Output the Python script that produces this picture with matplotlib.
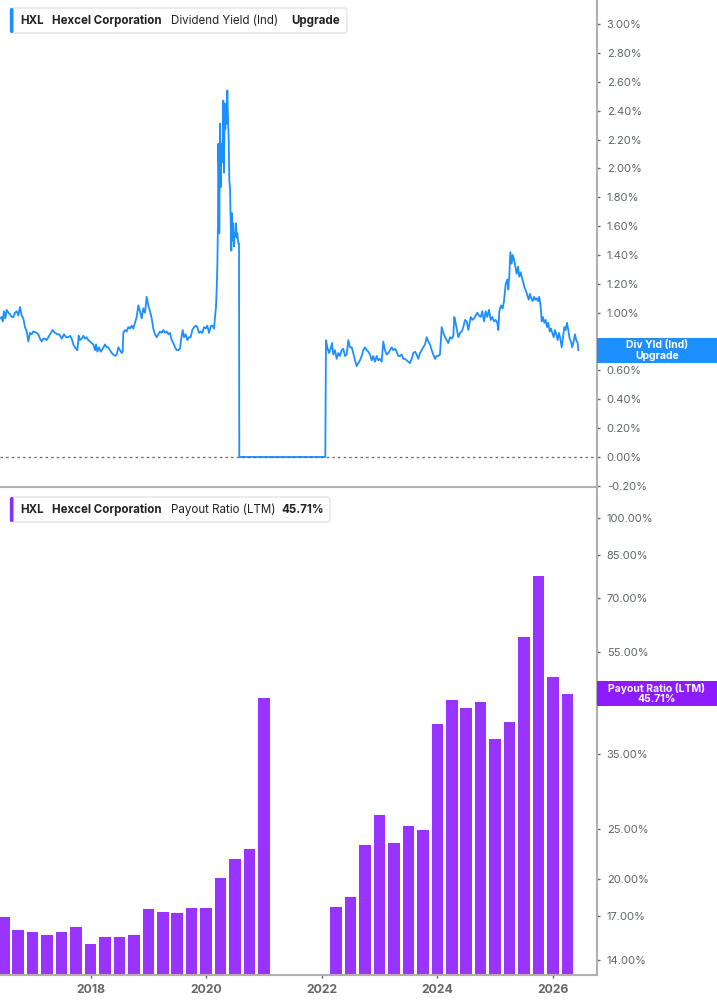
import matplotlib
matplotlib.use('Agg')
import matplotlib.pyplot as plt
from matplotlib.patches import Rectangle, FancyBboxPatch
from matplotlib.transforms import IdentityTransform
from matplotlib.ticker import NullLocator

plt.rcParams['font.family'] = ['Inter', 'DejaVu Sans']

# ---------------- data ----------------
ticker = "HXL"
company = "Hexcel Corporation"
top_series_name = "Dividend Yield (Ind)"
top_badge = ["Div Yld (Ind)", "Upgrade"]
bottom_series_name = "Payout Ratio (LTM)"

# Dividend yield (%) vs decimal year
yield_years = [
    2016.434, 2016.463, 2016.481, 2016.503, 2016.526, 2016.550, 2016.578, 2016.607, 2016.637, 2016.664,
    2016.694, 2016.723, 2016.751, 2016.780, 2016.809, 2016.837, 2016.867, 2016.896, 2016.924, 2016.953,
    2016.983, 2017.010, 2017.069, 2017.097, 2017.126, 2017.155, 2017.183, 2017.213, 2017.242, 2017.270,
    2017.299, 2017.346, 2017.386, 2017.426, 2017.460, 2017.502, 2017.542, 2017.576, 2017.616, 2017.645,
    2017.675, 2017.702, 2017.732, 2017.772, 2017.796, 2017.818, 2017.848, 2017.875, 2017.905, 2017.934,
    2017.962, 2017.991, 2018.021, 2018.048, 2018.078, 2018.095, 2018.118, 2018.147, 2018.176, 2018.211,
    2018.251, 2018.280, 2018.308, 2018.337, 2018.367, 2018.394, 2018.424, 2018.453, 2018.481, 2018.510,
    2018.540, 2018.557, 2018.567, 2018.597, 2018.626, 2018.654, 2018.683, 2018.713, 2018.740, 2018.770,
    2018.799, 2018.827, 2018.856, 2018.886, 2018.913, 2018.943, 2018.972, 2019.000, 2019.029, 2019.059,
    2019.086, 2019.116, 2019.145, 2019.173, 2019.202, 2019.232, 2019.259, 2019.289, 2019.318, 2019.346,
    2019.375, 2019.405, 2019.432, 2019.462, 2019.491, 2019.519, 2019.548, 2019.566, 2019.595, 2019.618,
    2019.647, 2019.675, 2019.704, 2019.733, 2019.761, 2019.791, 2019.820, 2019.848, 2019.877, 2019.906,
    2019.934, 2019.964, 2019.993, 2020.021, 2020.050, 2020.085, 2020.114, 2020.137, 2020.154, 2020.171,
    2020.183, 2020.194, 2020.206, 2020.211, 2020.223, 2020.228, 2020.240, 2020.252, 2020.263, 2020.275,
    2020.287, 2020.297, 2020.310, 2020.322, 2020.332, 2020.344, 2020.356, 2020.367, 2020.379, 2020.391,
    2020.401, 2020.413, 2020.425, 2020.436, 2020.448, 2020.460, 2020.470, 2020.483, 2020.495, 2020.505,
    2020.517, 2020.529, 2020.540, 2020.557, 2020.569, 2020.574, 2022.062, 2022.074, 2022.097, 2022.126,
    2022.156, 2022.178, 2022.200, 2022.230, 2022.259, 2022.287, 2022.316, 2022.346, 2022.373, 2022.403,
    2022.432, 2022.460, 2022.489, 2022.519, 2022.546, 2022.576, 2022.605, 2022.633, 2022.662, 2022.692,
    2022.719, 2022.749, 2022.778, 2022.806, 2022.835, 2022.865, 2022.892, 2022.922, 2022.951, 2022.979,
    2023.008, 2023.038, 2023.065, 2023.095, 2023.124, 2023.152, 2023.181, 2023.211, 2023.238, 2023.268,
    2023.297, 2023.325, 2023.354, 2023.384, 2023.411, 2023.441, 2023.470, 2023.498, 2023.527, 2023.557,
    2023.584, 2023.614, 2023.643, 2023.671, 2023.700, 2023.730, 2023.757, 2023.787, 2023.816, 2023.844,
    2023.873, 2023.903, 2023.930, 2023.960, 2023.989, 2024.017, 2024.046, 2024.076, 2024.104, 2024.134,
    2024.163, 2024.191, 2024.220, 2024.250, 2024.277, 2024.294, 2024.306, 2024.336, 2024.364, 2024.393,
    2024.423, 2024.450, 2024.480, 2024.509, 2024.537, 2024.578, 2024.606, 2024.635, 2024.664, 2024.692,
    2024.721, 2024.751, 2024.778, 2024.808, 2024.837, 2024.865, 2024.894, 2024.923, 2024.951, 2024.981,
    2025.010, 2025.038, 2025.055, 2025.073, 2025.102, 2025.131, 2025.154, 2025.183, 2025.211, 2025.228,
    2025.245, 2025.263, 2025.287, 2025.304, 2025.327, 2025.349, 2025.373, 2025.396, 2025.418, 2025.443,
    2025.465, 2025.487, 2025.512, 2025.534, 2025.557, 2025.581, 2025.603, 2025.626, 2025.650, 2025.673,
    2025.695, 2025.719, 2025.742, 2025.764, 2025.789, 2025.806, 2025.828, 2025.851, 2025.875, 2025.898,
    2025.920, 2025.945, 2025.967, 2025.989, 2026.014, 2026.036, 2026.058, 2026.083, 2026.105, 2026.128,
    2026.152, 2026.174, 2026.197, 2026.221, 2026.243, 2026.266, 2026.290, 2026.313, 2026.335, 2026.359,
    2026.382, 2026.404, 2026.429, 2026.439,
]
yield_values = [
    0.96, 0.97, 0.94, 1.01, 0.96, 1.02, 1.00, 0.99, 0.97, 0.97,
    1.00, 1.01, 0.98, 1.04, 0.98, 0.96, 0.90, 0.87, 0.80, 0.86,
    0.85, 0.87, 0.86, 0.85, 0.82, 0.80, 0.82, 0.82, 0.81, 0.83,
    0.85, 0.88, 0.86, 0.85, 0.85, 0.82, 0.85, 0.83, 0.83, 0.84,
    0.82, 0.78, 0.76, 0.74, 0.84, 0.81, 0.82, 0.84, 0.82, 0.83,
    0.81, 0.80, 0.79, 0.78, 0.74, 0.78, 0.73, 0.76, 0.73, 0.75,
    0.78, 0.76, 0.76, 0.74, 0.72, 0.71, 0.70, 0.71, 0.76, 0.74,
    0.72, 0.73, 0.86, 0.88, 0.87, 0.90, 0.89, 0.91, 0.89, 0.93,
    0.97, 1.05, 1.01, 0.96, 1.03, 1.00, 1.11, 1.05, 1.01, 0.96,
    0.89, 0.85, 0.83, 0.85, 0.87, 0.86, 0.88, 0.86, 0.87, 0.85,
    0.86, 0.81, 0.79, 0.76, 0.74, 0.74, 0.75, 0.81, 0.88, 0.83,
    0.85, 0.81, 0.83, 0.83, 0.88, 0.90, 0.91, 0.90, 0.86, 0.87,
    0.86, 0.90, 0.89, 0.91, 0.86, 0.91, 0.91, 0.89, 0.97, 1.04,
    1.16, 1.32, 1.64, 2.17, 1.92, 1.55, 2.31, 1.87, 2.17, 2.04,
    2.20, 2.47, 1.97, 2.45, 2.27, 2.43, 2.31, 2.54, 2.34, 2.20,
    1.92, 1.87, 1.64, 1.43, 1.69, 1.50, 1.62, 1.46, 1.55, 1.53,
    1.62, 1.52, 1.55, 1.48, 1.48, 0.00, 0.00, 0.81, 0.76, 0.72,
    0.75, 0.79, 0.71, 0.74, 0.68, 0.72, 0.70, 0.74, 0.75, 0.70,
    0.71, 0.81, 0.76, 0.76, 0.72, 0.67, 0.63, 0.65, 0.67, 0.70,
    0.74, 0.76, 0.74, 0.73, 0.71, 0.67, 0.70, 0.66, 0.70, 0.67,
    0.68, 0.66, 0.80, 0.74, 0.71, 0.72, 0.74, 0.76, 0.74, 0.75,
    0.73, 0.70, 0.70, 0.71, 0.68, 0.68, 0.67, 0.66, 0.65, 0.68,
    0.72, 0.73, 0.71, 0.68, 0.72, 0.74, 0.76, 0.78, 0.83, 0.80,
    0.78, 0.74, 0.71, 0.68, 0.70, 0.70, 0.71, 0.90, 0.86, 0.83,
    0.81, 0.79, 0.83, 0.82, 0.84, 0.97, 0.95, 0.89, 0.83, 0.86,
    0.87, 0.90, 0.95, 0.94, 0.88, 0.97, 0.95, 0.96, 0.98, 1.00,
    0.98, 0.97, 1.01, 0.94, 1.01, 0.97, 1.02, 0.95, 0.97, 0.94,
    0.95, 0.93, 0.88, 1.01, 1.05, 1.03, 1.08, 1.20, 1.23, 1.16,
    1.25, 1.42, 1.34, 1.40, 1.37, 1.32, 1.27, 1.32, 1.25, 1.28,
    1.24, 1.21, 1.17, 1.15, 1.12, 1.09, 1.13, 1.10, 1.08, 1.11,
    1.09, 1.10, 1.08, 1.11, 1.04, 0.94, 0.97, 0.93, 0.95, 0.90,
    0.93, 0.87, 0.89, 0.86, 0.83, 0.88, 0.85, 0.81, 0.86, 0.82,
    0.76, 0.83, 0.90, 0.88, 0.93, 0.88, 0.82, 0.80, 0.76, 0.80,
    0.85, 0.81, 0.79, 0.74,
]

# Payout ratio (LTM, %) by quarter (decimal year of bar centre)
payout_quarters = [
    2016.50, 2016.75, 2017.00, 2017.25, 2017.50, 2017.75, 2018.00, 2018.25, 2018.50, 2018.75,
    2019.00, 2019.25, 2019.50, 2019.75, 2020.00, 2020.25, 2020.50, 2020.75, 2021.00,
    2022.25, 2022.50, 2022.75, 2023.00, 2023.25, 2023.50, 2023.75, 2024.00, 2024.25, 2024.50,
    2024.75, 2025.00, 2025.25, 2025.50, 2025.75, 2026.00, 2026.25,
]
payout_values = [
    16.9, 16.0, 15.8, 15.6, 15.8, 16.2, 15.0, 15.5, 15.5, 15.6,
    17.5, 17.3, 17.2, 17.6, 17.6, 20.1, 21.9, 22.9, 44.8,
    17.7, 18.5, 23.3, 26.7, 23.5, 25.4, 24.9, 39.9, 44.4, 43.0,
    44.0, 37.3, 40.4, 58.8, 77.2, 49.2, 45.71,
]

top_ticks = [-0.2, 0.0, 0.2, 0.4, 0.6, 0.8, 1.0, 1.2, 1.4, 1.6, 1.8, 2.0, 2.2, 2.4, 2.6, 2.8, 3.0]
bottom_ticks = [14, 17, 20, 25, 35, 45, 55, 70, 85, 100]
year_ticks = [2018, 2020, 2022, 2024, 2026]

# ---------------- style ----------------
W, H = 717, 1005
BLUE = '#1E8FFF'
PURPLE = '#9933FF'
PURPLE_BADGE = '#8C1CFF'
SPINE = '#B0B0B0'
TICKC = '#5F6368'

fig = plt.figure(figsize=(W / 100, H / 100), dpi=100)
fig.patch.set_facecolor('white')

def fr(px_top, px_bottom):
    return 1 - px_bottom / H, (px_bottom - px_top) / H

b1, h1 = fr(0, 487)
b2, h2 = fr(489, 975)
ax1 = fig.add_axes([0, b1, 597 / W, h1])
ax2 = fig.add_axes([0, b2, 597 / W, h2], sharex=ax1)

XMIN, XMAX = 2016.434, 2026.763

for ax in (ax1, ax2):
    for s in ('left', 'top'):
        ax.spines[s].set_visible(False)
    for s in ('right', 'bottom'):
        ax.spines[s].set_color(SPINE)
        ax.spines[s].set_linewidth(1.5)
    ax.yaxis.tick_right()
    ax.tick_params(axis='y', which='major', direction='out', length=2.5, width=1,
                   color='#666666', labelsize=8, labelcolor=TICKC, pad=4.5)
    ax.set_facecolor('white')

# top panel
ax1.plot(yield_years, yield_values, color=BLUE, lw=1.3, solid_joinstyle='round')
ax1.axhline(0, color='#666666', lw=0.9, ls=(0, (2, 2.5)))
ax1.set_xlim(XMIN, XMAX)
ax1.set_ylim(-0.208, 3.167)
ax1.set_yticks(top_ticks)
ax1.set_yticklabels([f"{v:.2f}%" for v in top_ticks])
ax1.tick_params(axis='x', which='both', bottom=False, labelbottom=False)

# bottom panel (bars rise from the bottom of the log axis)
ax2.set_yscale('log')
ax2.bar(payout_quarters, payout_values, width=0.2, bottom=1e-4, color=PURPLE, linewidth=0)
ax2.set_ylim(13.07, 113.8)
ax2.yaxis.set_minor_locator(NullLocator())
ax2.set_yticks(bottom_ticks)
ax2.set_yticklabels([f"{v:.2f}%" for v in bottom_ticks])
ax2.set_xticks(year_ticks)
ax2.set_xticklabels([str(y) for y in year_ticks])
ax2.tick_params(axis='x', which='major', direction='out', length=2.5, width=1,
                color='#666666', labelsize=8.8, labelcolor='#666666', pad=4)
for lab in ax2.get_xticklabels():
    lab.set_fontweight('bold')
ax2.set_xlim(XMIN, XMAX)

# ---------------- overlays (pixel coordinates) ----------------
T = IdentityTransform()
LEG_FS = 8.3

def add_legend(y_top, y_bot, x_right, color, parts):
    box = FancyBboxPatch((10, H - y_bot), x_right - 10, y_bot - y_top,
                         boxstyle='round,pad=0,rounding_size=3', transform=T,
                         facecolor='white', edgecolor='#E3E3E3', lw=1, zorder=10)
    fig.patches.append(box)
    bar = FancyBboxPatch((10, H - y_bot), 3.5, y_bot - y_top,
                         boxstyle='round,pad=0,rounding_size=1.5', transform=T,
                         facecolor=color, edgecolor='none', zorder=11)
    fig.patches.append(bar)
    yc = H - (y_top + y_bot) / 2
    for x, txt, wt in parts:
        fig.text(x, yc, txt, transform=T, fontsize=LEG_FS, fontweight=wt, color='#222222',
                 va='center', ha='left', zorder=12)

add_legend(8, 33, 347, BLUE, [(20, ticker, 'bold'), (52, company, 'bold'),
                                (171, top_series_name, 'normal'), (291, "Upgrade", 'bold')])
add_legend(497, 522, 330, '#8A2BFF', [(20, ticker, 'bold'), (52, company, 'bold'),
                                      (171, bottom_series_name, 'normal'),
                                      (281, f"{payout_values[-1]:.2f}%", 'bold')])

def add_badge(ax, yval, color, lines):
    fig.canvas.draw()
    yd = ax.transData.transform((XMAX, yval))[1]
    bh = 25
    rect = Rectangle((597, yd - bh / 2), W - 597, bh, transform=T,
                     facecolor=color, edgecolor='none', zorder=20)
    fig.patches.append(rect)
    fig.text(657, yd + 5.5, lines[0], transform=T, fontsize=7.5, fontweight='bold',
             color='white', ha='center', va='center', zorder=21)
    fig.text(657, yd - 5.5, lines[1], transform=T, fontsize=7.5, fontweight='bold',
             color='white', ha='center', va='center', zorder=21)

add_badge(ax1, yield_values[-1], BLUE, top_badge)
add_badge(ax2, payout_values[-1], PURPLE_BADGE,
          [bottom_series_name, f"{payout_values[-1]:.2f}%"])

fig.savefig('out.png', dpi=100, facecolor='white')
